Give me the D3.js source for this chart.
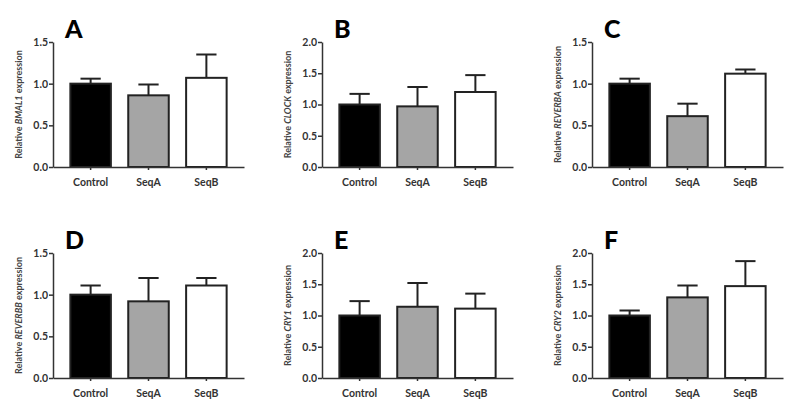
<!DOCTYPE html>
<html>
<head>
<meta charset="utf-8">
<script src="https://cdn.jsdelivr.net/npm/d3@7"></script>
<style>
  body { margin: 0; background: #fff; }
  svg text { font-family: Lato, "Open Sans", sans-serif; }
  .tick text { font-weight: bold; fill: #333; }
  .domain, .tick line { stroke: #333; stroke-width: 1.5; }
</style>
</head>
<body>
<svg id="chart" width="800" height="409"></svg>
<script>
const groups = ["Control", "SeqA", "SeqB"];
const panelLetters = ["A", "B", "C", "D", "E", "F"];
const genes = ["BMAL1", "CLOCK", "REVERBA", "REVERBB", "CRY1", "CRY2"];
const yMax = [1.5, 2.0, 1.5, 1.5, 2.0, 2.0];
const yTicks15 = [0, 0.5, 1.0, 1.5];
const yTicks20 = [0, 0.5, 1.0, 1.5, 2.0];

// mean and top of error bar, one row per panel, columns follow groups
const means = [
  [1.00, 0.86, 1.07],
  [1.00, 0.97, 1.20],
  [1.00, 0.61, 1.12],
  [1.00, 0.92, 1.11],
  [1.00, 1.14, 1.11],
  [1.00, 1.29, 1.47]
];
const errTops = [
  [1.06, 0.99, 1.35],
  [1.17, 1.28, 1.47],
  [1.06, 0.76, 1.17],
  [1.11, 1.20, 1.20],
  [1.23, 1.52, 1.35],
  [1.08, 1.48, 1.87]
];

const fills = ["#000", "#a5a5a5", "#fff"];
const colX = [53, 322, 592];
const rowY = [42, 253];
const plotW = 191;
const plotH = 125;

const svg = d3.select("#chart");

panelLetters.forEach((letter, i) => {
    const x0 = colX[i % 3];
    const y0 = rowY[Math.floor(i / 3)];
    const g = svg.append("g").attr("transform", `translate(${x0},${y0})`);

    const x = d3.scaleBand().domain(groups).range([0, plotW]).padding(0.3);
    const y = d3.scaleLinear().domain([0, yMax[i]]).range([plotH, 0]);

    // bars
    g.selectAll("rect.bar")
        .data(groups)
        .enter().append("rect")
        .attr("class", "bar")
        .attr("x", d => x(d))
        .attr("width", x.bandwidth())
        .attr("y", (d, j) => y(means[i][j]))
        .attr("height", (d, j) => plotH - y(means[i][j]))
        .attr("fill", (d, j) => fills[j])
        .attr("stroke", "#222")
        .attr("stroke-width", 2);

    // error bars (upper only)
    const capW = x.bandwidth() / 2;
    const err = g.selectAll("g.err")
        .data(groups)
        .enter().append("g")
        .attr("class", "err")
        .attr("transform", d => `translate(${x(d) + x.bandwidth() / 2},0)`);
    err.append("line")
        .attr("y1", (d, j) => y(means[i][j]))
        .attr("y2", (d, j) => y(errTops[i][j]))
        .attr("stroke", "#222").attr("stroke-width", 2);
    err.append("line")
        .attr("x1", -capW / 2).attr("x2", capW / 2)
        .attr("y1", (d, j) => y(errTops[i][j]))
        .attr("y2", (d, j) => y(errTops[i][j]))
        .attr("stroke", "#222").attr("stroke-width", 2);

    // axes
    g.append("g")
        .call(d3.axisLeft(y)
            .tickValues(yMax[i] === 1.5 ? yTicks15 : yTicks20)
            .tickFormat(d3.format(".1f"))
            .tickSize(4).tickSizeOuter(0))
        .call(a => a.selectAll("text").attr("font-size", 10.5).attr("x", -5));
    g.append("g")
        .attr("transform", `translate(0,${plotH})`)
        .call(d3.axisBottom(x).tickSize(3).tickSizeOuter(0))
        .call(a => a.selectAll("text").attr("font-size", 10.5).attr("dy", "1.2em"));

    // y axis title
    const title = g.append("text")
        .attr("transform", `translate(-31,${plotH / 2}) rotate(-90)`)
        .attr("text-anchor", "middle")
        .attr("font-size", 9)
        .attr("font-weight", "bold")
        .attr("fill", "#444");
    title.append("tspan").text("Relative ");
    title.append("tspan").attr("font-style", "italic").text(genes[i]);
    title.append("tspan").text(" expression");

    // panel letter
    g.append("text")
        .attr("x", 12)
        .attr("y", -4)
        .attr("font-size", 25)
        .attr("font-weight", 900)
        .attr("fill", "#000")
        .text(letter);
});
</script>
</body>
</html>
